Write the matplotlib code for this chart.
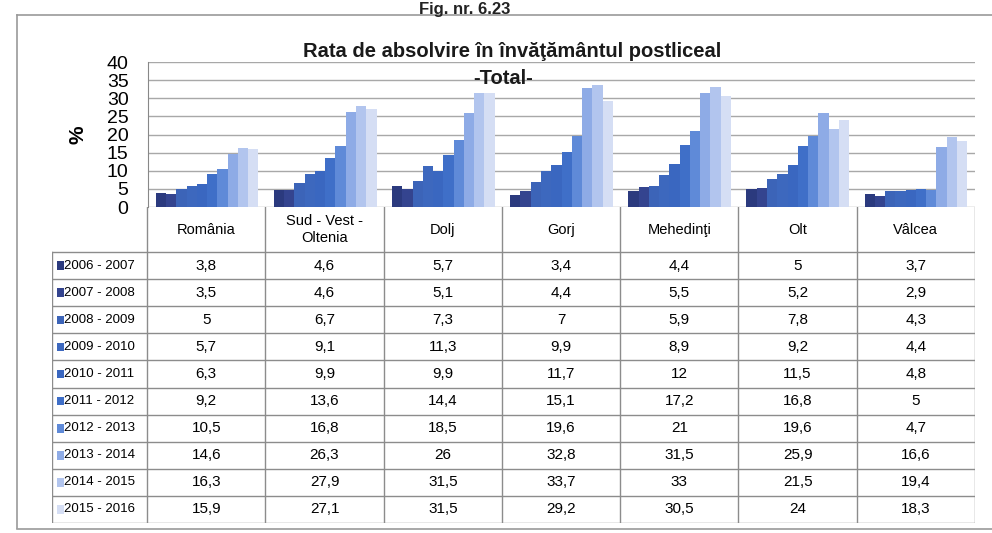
import numpy as np
import matplotlib.pyplot as plt
from matplotlib.patches import Rectangle

plt.rcParams['font.family'] = ['Liberation Sans', 'DejaVu Sans']

judete = ['România', 'Sud - Vest -\nOltenia', 'Dolj', 'Gorj', 'Mehedinţi', 'Olt', 'Vâlcea']
ani = ['2006 - 2007', '2007 - 2008', '2008 - 2009', '2009 - 2010', '2010 - 2011',
       '2011 - 2012', '2012 - 2013', '2013 - 2014', '2014 - 2015', '2015 - 2016']

# rata de absolvire (%) pe ani scolari, cate o lista pe an
r_2006 = [3.8, 4.6, 5.7, 3.4, 4.4, 5, 3.7]
r_2007 = [3.5, 4.6, 5.1, 4.4, 5.5, 5.2, 2.9]
r_2008 = [5, 6.7, 7.3, 7, 5.9, 7.8, 4.3]
r_2009 = [5.7, 9.1, 11.3, 9.9, 8.9, 9.2, 4.4]
r_2010 = [6.3, 9.9, 9.9, 11.7, 12, 11.5, 4.8]
r_2011 = [9.2, 13.6, 14.4, 15.1, 17.2, 16.8, 5]
r_2012 = [10.5, 16.8, 18.5, 19.6, 21, 19.6, 4.7]
r_2013 = [14.6, 26.3, 26, 32.8, 31.5, 25.9, 16.6]
r_2014 = [16.3, 27.9, 31.5, 33.7, 33, 21.5, 19.4]
r_2015 = [15.9, 27.1, 31.5, 29.2, 30.5, 24, 18.3]
serii = [r_2006, r_2007, r_2008, r_2009, r_2010, r_2011, r_2012, r_2013, r_2014, r_2015]

culori = ['#2b3a7e', '#34448f', '#3c64b8', '#3d68be', '#3a67c0', '#3f6fc8',
          '#5f8ad8', '#8eabe6', '#b2c5ee', '#d5def4']

W, H = 992, 533
fig = plt.figure(figsize=(W / 100, H / 100), dpi=100)

def box(l, t, r, b):
    return [l / W, 1 - b / H, (r - l) / W, (b - t) / H]

# chenarul paginii
grey = '#9a9a9a'
fig.add_artist(plt.Line2D([17 / W, 1], [1 - 15 / H] * 2, color=grey, lw=1.2))
fig.add_artist(plt.Line2D([17 / W] * 2, [1 - 15 / H, 1 - 528 / H], color=grey, lw=1.2))
fig.add_artist(plt.Line2D([17 / W, 1], [1 - 529 / H] * 2, color=grey, lw=1.2))
fig.text(465 / W, 1 - 14 / H, 'Fig. nr. 6.23', fontsize=12, fontweight='bold',
         ha='center', va='baseline', color='#222222')

# graficul cu bare
ax = fig.add_axes(box(148, 62, 975, 207))
x = np.arange(len(judete))
n = len(serii)
lat = 0.87 / n
for i, s in enumerate(serii):
    ax.bar(x - 0.435 + lat * (i + 0.5), s, width=lat, color=culori[i], zorder=3)
ax.set_xlim(-0.5, 6.5)
ax.set_ylim(0, 40)
ax.set_yticks(range(0, 41, 5))
ax.tick_params(axis='y', labelsize=14, length=0, pad=14)
ax.set_xticks([])
ax.grid(axis='y', color='#a8a8a8', lw=1, zorder=0)
for sp in ['top', 'right', 'bottom']:
    ax.spines[sp].set_visible(False)
ax.spines['left'].set_color('#888888')
ax.set_ylabel('%', fontsize=15, fontweight='bold', labelpad=14)
ax.text(0.44, 1.005, 'Rata de absolvire în învăţământul postliceal', transform=ax.transAxes,
        fontsize=14.5, fontweight='bold', ha='center', va='bottom', color='#1a1a1a')
ax.text(0.43, 0.885, '-Total-', transform=ax.transAxes,
        fontsize=14.5, fontweight='bold', ha='center', va='center', color='#1a1a1a')

# tabelul de date
at = fig.add_axes(box(52, 207, 975, 523))
wl = 95 / (827 / 7)
hh = 45 / 27
at.set_xlim(-0.5 - wl, 6.5)
at.set_ylim(hh + n, 0)
at.axis('off')
lc = '#8c8c8c'
for k in range(8):
    at.plot([-0.5 + k] * 2, [0, hh + n], color=lc, lw=1)
at.plot([-0.5 - wl] * 2, [hh, hh + n], color=lc, lw=1)
for i in range(n + 1):
    at.plot([-0.5 - wl, 6.5], [hh + i] * 2, color=lc, lw=1)
for j, nume in enumerate(judete):
    at.text(j, hh / 2, nume, ha='center', va='center', fontsize=10.5, linespacing=1.2)
for i, s in enumerate(serii):
    yc = hh + i + 0.5
    at.add_patch(Rectangle((-0.5 - wl + 0.04, yc - 0.16), 0.06, 0.32,
                           color=culori[i], lw=0))
    at.text(-0.5 - wl + 0.105, yc, ani[i], ha='left', va='center', fontsize=9.5)
    for j, v in enumerate(s):
        at.text(j, yc, f'{v:g}'.replace('.', ','), ha='center', va='center', fontsize=11)

fig.savefig('out.png', dpi=100)
